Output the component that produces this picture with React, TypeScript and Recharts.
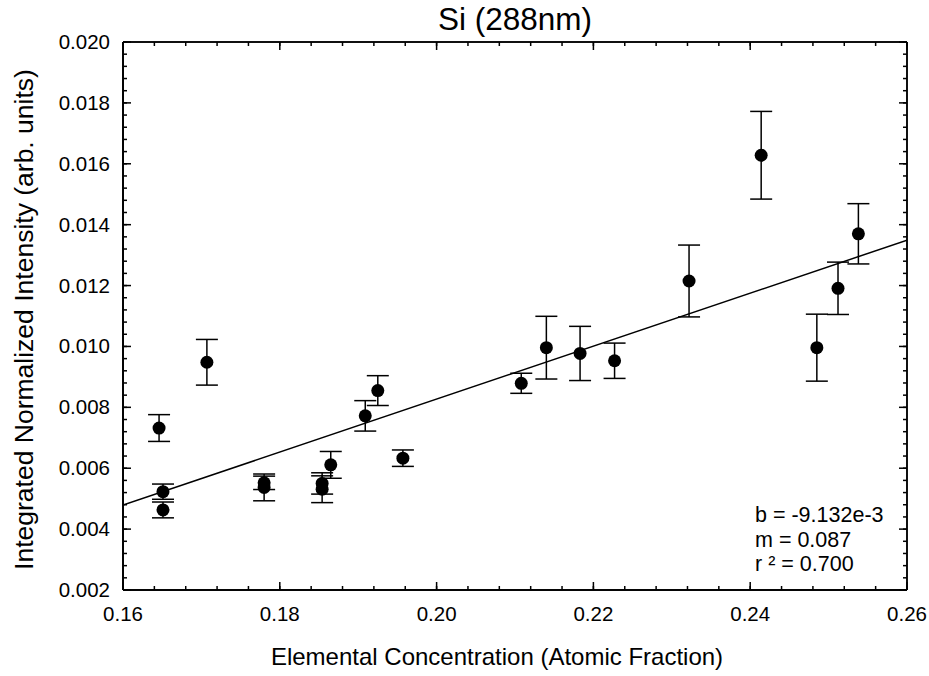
import { ScatterChart, Scatter, XAxis, YAxis, ErrorBar, Label } from 'recharts';

// measured points (atomic fraction vs. integrated normalized intensity)
const conc = [0.1646, 0.1651, 0.1651, 0.1707, 0.1780, 0.1780, 0.1854, 0.1854, 0.1865, 0.1909, 0.1925,
    0.1957, 0.2108, 0.2140, 0.2183, 0.2227, 0.2322, 0.2414, 0.2485, 0.2512, 0.2538];
const intensity = [0.00732, 0.00523, 0.00463, 0.00948, 0.00552, 0.00537, 0.00550, 0.00531, 0.00611, 0.00772, 0.00855,
    0.00633, 0.00879, 0.00996, 0.00977, 0.00953, 0.01215, 0.01628, 0.00996, 0.01191, 0.01370];
const errs = [0.00044, 0.00025, 0.00026, 0.00075, 0.00022, 0.00044, 0.00035, 0.00044, 0.00044, 0.0005, 0.00049,
    0.00027, 0.00033, 0.00103, 0.00089, 0.00058, 0.00118, 0.00144, 0.0011, 0.00086, 0.00099];

// linear fit end points
const fitX = [0.16, 0.26];
const fitY = [0.00479, 0.01349];

const xTicks = [0.16, 0.18, 0.20, 0.22, 0.24, 0.26];
const yTicks = [0.002, 0.004, 0.006, 0.008, 0.010, 0.012, 0.014, 0.016, 0.018, 0.020];
const stats = ["b = -9.132e-3", "m = 0.087", "r \u00b2 = 0.700"];

const points = conc.map((c, i) => ({ x: c, y: intensity[i], err: errs[i] }));
const fit = fitX.map((x, i) => ({ x, y: fitY[i] }));

// minor ticks, 5 per major interval
const minor = (ticks: number[]) => {
    const out: number[] = [];
    for (let i = 0; i < ticks.length - 1; i++) {
        const step = (ticks[i + 1] - ticks[i]) / 5;
        for (let k = 0; k < 5; k++) out.push(+(ticks[i] + k * step).toFixed(6));
    }
    out.push(ticks[ticks.length - 1]);
    return out;
};
const xMinor = minor(xTicks);
const yMinor = minor(yTicks);

const font = '"Liberation Sans", Arial, sans-serif';
const line = { stroke: '#000', strokeWidth: 1.5 };
const xDomain = [0.16, 0.26];
const yDomain = [0.002, 0.020];

const Dot = (props: any) => <circle cx={props.cx} cy={props.cy} r={6.5} fill="#000" />;
const NoDot = () => <g />;
const NoTick = () => <g />;

const XTick = (p: any) => (
    <text x={p.x} y={p.y + 31} textAnchor="middle" fill="#000" style={{ fontSize: 20.5 }}>
        {Number(p.payload.value).toFixed(2)}
    </text>
);
const YTick = (p: any) => (
    <text x={p.x - 13} y={p.y + 7} textAnchor="end" fill="#000" style={{ fontSize: 20.5 }}>
        {Number(p.payload.value).toFixed(3)}
    </text>
);

// inward tick marks: mirrored axes without labels
const xInner = (id: string, side: 'top' | 'bottom', ticks: number[], size: number) => (
    <XAxis key={id} xAxisId={id} orientation={side} mirror type="number" dataKey="x" domain={xDomain}
        allowDataOverflow ticks={ticks} interval={0} height={0.01} tick={NoTick} tickSize={size}
        axisLine={line} tickLine={line} />
);
const yInner = (id: string, side: 'left' | 'right', ticks: number[], size: number) => (
    <YAxis key={id} yAxisId={id} orientation={side} mirror type="number" dataKey="y" domain={yDomain}
        allowDataOverflow ticks={ticks} interval={0} width={0.01} tick={NoTick} tickSize={size}
        axisLine={line} tickLine={line} />
);

export default function App() {
    return (
        <div style={{ position: 'absolute', left: 0, top: 0, fontFamily: font }}>
            <ScatterChart width={929} height={676} margin={{ top: 42, right: 22, left: 0, bottom: 0 }}>
                <XAxis type="number" dataKey="x" domain={xDomain} allowDataOverflow ticks={xTicks} interval={0}
                    height={86} tickSize={0} tickMargin={0} axisLine={line} tickLine={false} tick={XTick}>
                    <Label value="Elemental Concentration (Atomic Fraction)" position="insideBottom" offset={11}
                        dx={-18} style={{ fill: '#000', fontSize: 24 }} />
                </XAxis>
                <YAxis type="number" dataKey="y" domain={yDomain} allowDataOverflow ticks={yTicks} interval={0}
                    width={123} tickSize={0} tickMargin={0} axisLine={line} tickLine={false} tick={YTick}>
                    <Label value="Integrated Normalized Intensity (arb. units)" position="insideLeft" angle={-90}
                        offset={24} dy={3.5} style={{ fill: '#000', fontSize: 26.5, textAnchor: 'middle' }} />
                </YAxis>

                {xInner('bMaj', 'bottom', xTicks, 8)}
                {xInner('bMin', 'bottom', xMinor, 4)}
                {xInner('tMin', 'top', xMinor, 4)}
                <XAxis xAxisId="tMaj" orientation="top" mirror type="number" dataKey="x" domain={xDomain}
                    allowDataOverflow ticks={xTicks} interval={0} height={0.01} tick={NoTick} tickSize={8}
                    axisLine={line} tickLine={line}>
                    <Label value="Si (288nm)" position="top" offset={12.5} style={{ fill: '#000', fontSize: 31.5 }} />
                </XAxis>
                {yInner('lMaj', 'left', yTicks, 8)}
                {yInner('lMin', 'left', yMinor, 4)}
                {yInner('rMaj', 'right', yTicks, 8)}
                {yInner('rMin', 'right', yMinor, 4)}

                <Scatter data={fit} line={line} shape={NoDot} isAnimationActive={false} />
                <Scatter data={points} shape={Dot} isAnimationActive={false}>
                    <ErrorBar dataKey="err" direction="y" width={11} stroke="#000" strokeWidth={1.5} />
                </Scatter>

                <text x={755} y={522} fontSize={21.5} fill="#000">
                    {stats.map((s, i) => (
                        <tspan key={s} x={755} dy={i === 0 ? 0 : 24.5}>{s}</tspan>
                    ))}
                </text>
            </ScatterChart>
        </div>
    );
}
